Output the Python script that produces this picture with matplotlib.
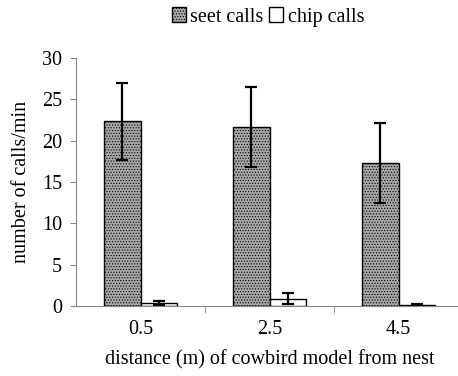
import numpy as np
import matplotlib.pyplot as plt

plt.rcParams['font.family'] = ['Liberation Serif', 'DejaVu Serif']
plt.rcParams['hatch.color'] = '#6e6e6e'
plt.rcParams['hatch.linewidth'] = 0.5

categories = ['0.5', '2.5', '4.5']
seet = [22.35, 21.65, 17.3]
seet_err = [4.65, 4.85, 4.85]
chip = [0.35, 0.9, 0.12]
chip_err = [0.25, 0.7, 0.08]

fig = plt.figure(figsize=(4.58, 3.76), dpi=100)
ax = fig.add_axes([76 / 458, 1 - 306 / 376, 387 / 458, 248 / 376])

x = np.arange(len(categories))
w = 0.285
ax.bar(x - w / 2, seet, w, color='#a8a8a8', edgecolor='black', linewidth=1.0,
       hatch='......', label='seet calls')
ax.bar(x + w / 2, chip, w, color='white', edgecolor='black', linewidth=1.0,
       label='chip calls')
ax.errorbar(x - w / 2, seet, yerr=seet_err, fmt='none', ecolor='black',
            elinewidth=1.6, capsize=4, capthick=1.6)
ax.errorbar(x + w / 2, chip, yerr=chip_err, fmt='none', ecolor='black',
            elinewidth=1.6, capsize=4, capthick=1.6)

ax.set_xlim(-0.5, 2.5)
ax.set_ylim(0, 30)
ax.set_yticks(range(0, 31, 5))
ax.set_xticks(x)
ax.set_xticklabels(categories)
ax.set_xticks([0.5, 1.5], minor=True)
ax.tick_params(axis='x', which='major', length=0, pad=10, labelsize=14.5)
ax.tick_params(axis='x', which='minor', length=5, color='#888888')
ax.tick_params(axis='y', length=4, color='#888888', labelsize=14.5, pad=6)

for s in ['top', 'right']:
    ax.spines[s].set_visible(False)
for s in ['left', 'bottom']:
    ax.spines[s].set_color('#888888')

ax.set_ylabel('number of calls/min', fontsize=14.5, labelpad=8)
ax.set_xlabel('distance (m) of cowbird model from nest', fontsize=14.5, labelpad=8)

fig.legend(loc='center', bbox_to_anchor=(268 / 458, 1 - 17 / 376), ncol=2,
           frameon=False, fontsize=14.5, handlelength=0.7, handleheight=0.7,
           handletextpad=0.2, columnspacing=0.3)

fig.savefig('out.png', dpi=100)
